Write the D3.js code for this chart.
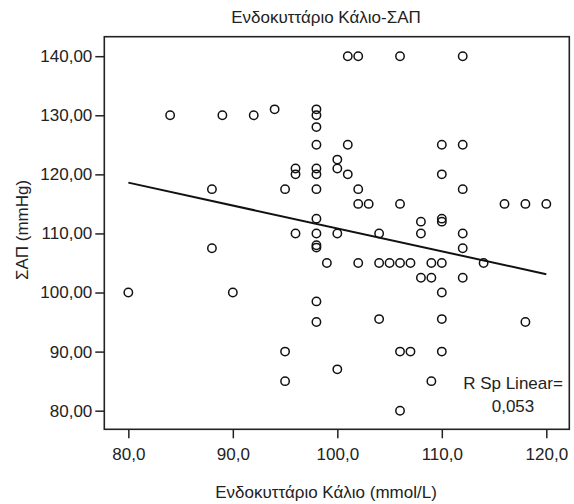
<!DOCTYPE html>
<html>
<head>
<meta charset="utf-8">
<script src="https://cdn.jsdelivr.net/npm/d3@7"></script>
<style>
  body { margin: 0; background: #fff; }
  svg { display: block; font-family: "Liberation Sans", Arial, sans-serif; }
</style>
</head>
<body>
<div class="chart"></div>
<script>
var svgWidth = 574;
var svgHeight = 504;

// intracellular potassium (x) and systolic pressure (y)
var potassium = [84, 89, 92, 94, 96, 96, 88, 95, 96,
  98, 98, 98, 98, 98, 98, 98, 98, 98, 98, 98, 98, 98,
  101, 102, 106, 112, 101, 110, 112, 100, 100, 101, 110, 102, 112,
  102, 103, 106, 116, 118, 120, 108, 110, 110, 100, 104, 108, 112, 112,
  99, 102, 104, 105, 106, 107, 109, 110, 114, 108, 109, 112, 110,
  104, 110, 118, 106, 107, 110, 100, 109, 106, 80, 88, 90, 95, 95];
var sap = [130, 130, 130, 131, 121, 120, 117.5, 117.5, 110,
  131, 130, 128, 125, 121, 120, 117.5, 112.5, 110, 108, 107.6, 98.5, 95,
  140, 140, 140, 140, 125, 125, 125, 122.5, 121, 120, 120, 117.5, 117.5,
  115, 115, 115, 115, 115, 115, 112, 112.5, 112, 110, 110, 110, 110, 107.5,
  105, 105, 105, 105, 105, 105, 105, 105, 105, 102.5, 102.5, 102.5, 100,
  95.5, 95.5, 95, 90, 90, 90, 87, 85, 80, 100, 107.5, 100, 90, 85];

var fitX = [80, 120];
var fitY = [118.6, 103.1];

var xTicks = [80, 90, 100, 110, 120];
var yTicks = [80, 90, 100, 110, 120, 130, 140];

var title = "Ενδοκυττάριο Κάλιο-ΣΑΠ";
var xTitle = "Ενδοκυττάριο Κάλιο (mmol/L)";
var yTitle = "ΣΑΠ (mmHg)";
var rLabel = ["R Sp Linear=", "0,053"];

var plot = { left: 104.3, right: 569.3, top: 36.7, bottom: 429.3 };
var fontSize = "17px";

var svg = d3.select(".chart")
  .append("svg")
  .attr("width", svgWidth)
  .attr("height", svgHeight);

var x = d3.scaleLinear()
  .domain([77.7, 122.2])
  .range([plot.left, plot.right]);

var y = d3.scaleLinear()
  .domain([76.85, 143.3])
  .range([plot.bottom, plot.top]);

var fmt = function (d, n) { return d.toFixed(n).replace(".", ","); };

// axes
var xAxis = svg.append("g")
  .attr("transform", "translate(0," + plot.bottom + ")")
  .call(d3.axisBottom(x).tickValues(xTicks).tickSize(9).tickSizeOuter(0)
    .tickFormat(function (d) { return fmt(d, 1); }));

var yAxis = svg.append("g")
  .attr("transform", "translate(" + plot.left + ",0)")
  .call(d3.axisLeft(y).tickValues(yTicks).tickSize(9).tickSizeOuter(0)
    .tickFormat(function (d) { return fmt(d, 2); }));

[xAxis, yAxis].forEach(function (a) {
  a.select(".domain").remove();
  a.selectAll("line").attr("stroke", "#222").attr("stroke-width", 1.5);
  a.selectAll("text")
    .attr("fill", "#222")
    .style("font-size", fontSize)
    .style("font-family", "'Liberation Sans', Arial, sans-serif");
});
xAxis.selectAll("text").attr("dy", 0).attr("y", 31);
yAxis.selectAll("text").attr("x", -12);

// frame
svg.append("rect")
  .attr("x", plot.left)
  .attr("y", plot.top)
  .attr("width", plot.right - plot.left)
  .attr("height", plot.bottom - plot.top)
  .attr("fill", "none")
  .attr("stroke", "#222")
  .attr("stroke-width", 1.6);

// fit line
svg.append("line")
  .attr("x1", x(fitX[0]))
  .attr("y1", y(fitY[0]))
  .attr("x2", x(fitX[1]))
  .attr("y2", y(fitY[1]))
  .attr("stroke", "#111")
  .attr("stroke-width", 2);

// points
svg.append("g")
  .selectAll("circle")
  .data(potassium)
  .enter()
  .append("circle")
  .attr("cx", function (d) { return x(d); })
  .attr("cy", function (d, i) { return y(sap[i]); })
  .attr("r", 4.2)
  .attr("fill", "none")
  .attr("stroke", "#111")
  .attr("stroke-width", 1.5);

// texts
svg.append("text")
  .attr("x", 326)
  .attr("y", 22.5)
  .attr("text-anchor", "middle")
  .attr("fill", "#222")
  .style("font-size", fontSize)
  .text(title);

svg.append("text")
  .attr("x", 326)
  .attr("y", 497.5)
  .attr("text-anchor", "middle")
  .attr("fill", "#222")
  .style("font-size", fontSize)
  .text(xTitle);

svg.append("text")
  .attr("transform", "translate(28,230)rotate(-90)")
  .attr("text-anchor", "middle")
  .attr("fill", "#222")
  .style("font-size", fontSize)
  .text(yTitle);

svg.append("g")
  .selectAll("text")
  .data(rLabel)
  .enter()
  .append("text")
  .attr("x", 513)
  .attr("y", function (d, i) { return 389 + i * 23.3; })
  .attr("text-anchor", "middle")
  .attr("fill", "#222")
  .style("font-size", fontSize)
  .text(function (d) { return d; });
</script>
</body>
</html>
